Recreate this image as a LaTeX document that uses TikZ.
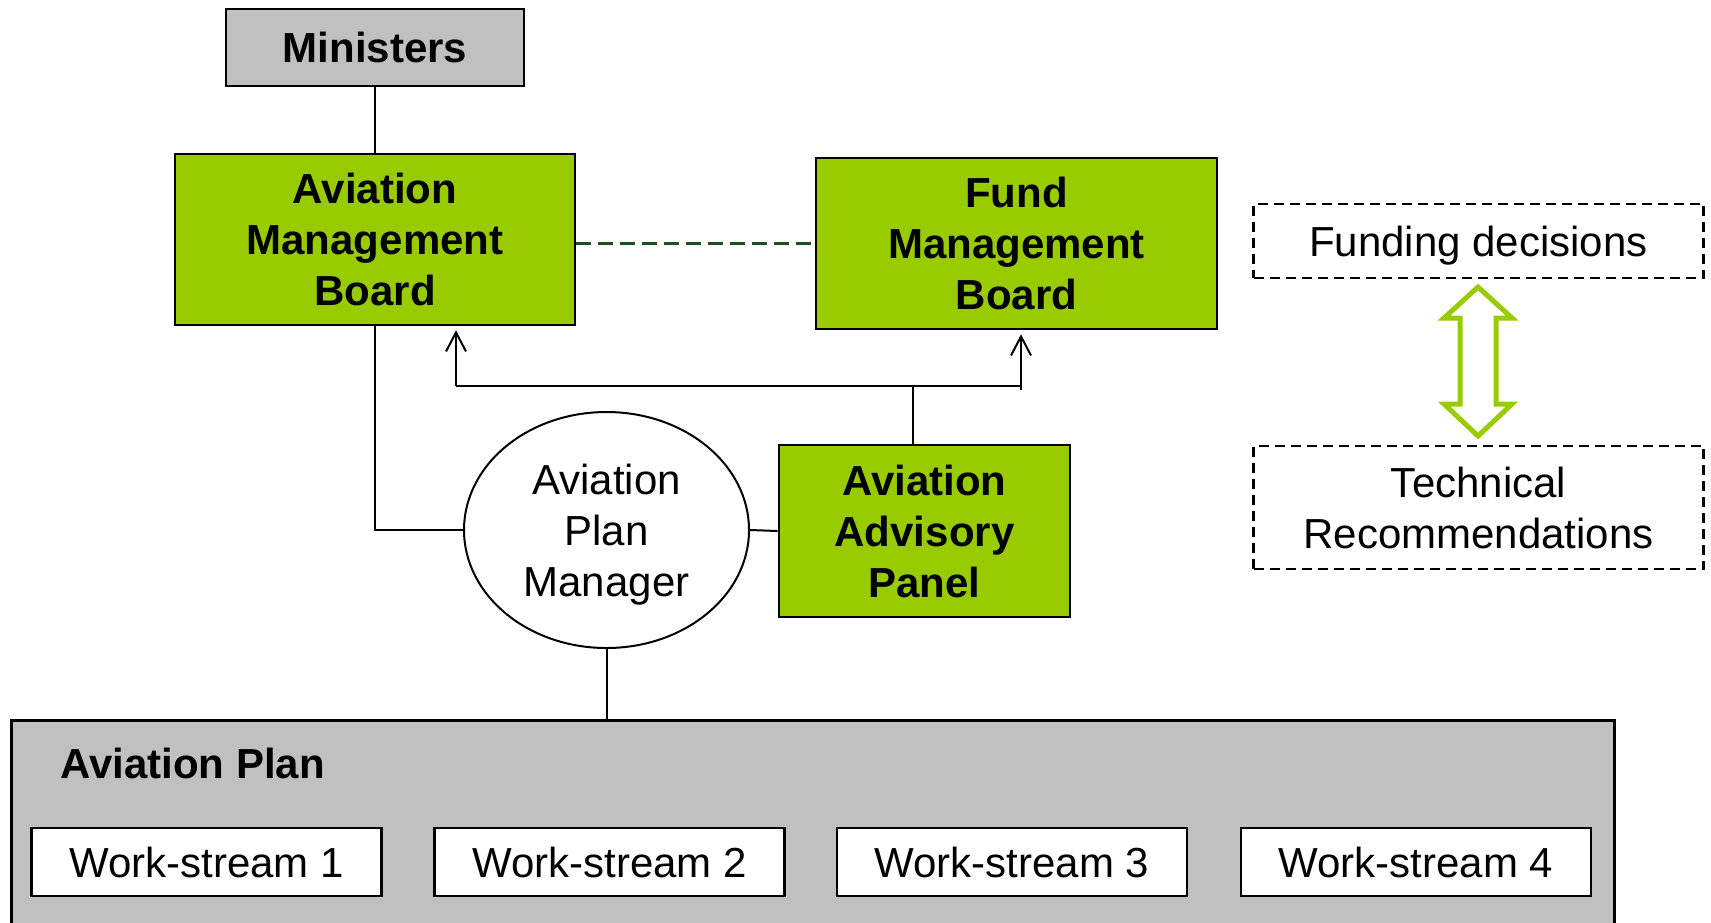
\documentclass[tikz,border=0pt]{standalone}
\usepackage{fontspec}
\setmainfont{Liberation Sans}
\usetikzlibrary{shapes.geometric,arrows.meta}
\definecolor{boardgreen}{HTML}{99CC00}
\definecolor{panelgray}{HTML}{C0C0C0}
\definecolor{linkgreen}{HTML}{1F5020}

\begin{document}
\begin{tikzpicture}[x=0.5pt,y=-0.5pt,
  txt/.style={font=\fontsize{21}{25.5}\selectfont, align=center, inner sep=0pt},
  boldtxt/.style={txt, font=\fontsize{21}{25.5}\selectfont\bfseries},
  board/.style={boldtxt, draw=black, line width=1.3pt, fill=boardgreen},
  graybox/.style={boldtxt, draw=black, line width=1.3pt, fill=panelgray},
  wsbox/.style={txt, draw=black, line width=1.3pt, fill=white,
    minimum width=175pt, minimum height=34pt},
  notebox/.style={txt, draw=black, line width=1.2pt, dash pattern=on 5pt off 3pt},
  link/.style={draw=black, line width=1pt},
  uparrow/.style={link, -{Straight Barb[length=9.5pt,width=10pt]}, shorten >=2pt},
]
\useasboundingbox (0,0) rectangle (1711,922);

% governance boxes
\node[graybox, minimum width=149pt, minimum height=38.5pt] (min) at (375,47.5) {Ministers};
\node[board, minimum width=200pt, minimum height=85.5pt] (amb) at (375,239.5)
  {Aviation\\Management\\Board};
\node[board, minimum width=200.5pt, minimum height=85.5pt] (fmb) at (1016.5,243.5)
  {Fund\\Management\\Board};
\node[board, minimum width=145.5pt, minimum height=86pt] (aap) at (924.5,531)
  {Aviation\\Advisory\\Panel};
\node[txt, ellipse, draw=black, line width=1pt, fill=white, text depth=0pt,
  minimum width=142.5pt, minimum height=118pt] (apm) at (606.5,530)
  {Aviation\\Plan\\Manager};

% legend on the right
\node[notebox, text depth=0pt, minimum width=225pt, minimum height=37pt] (fund) at (1478.5,241)
  {Funding decisions};
\node[notebox, minimum width=225pt, minimum height=61.5pt] (tech) at (1478.5,507.5)
  {Technical\\Recommendations};
\draw[boardgreen, line width=2.5pt, line join=miter]
  (1478,287) -- (1512,318) -- (1496,318) -- (1496,404) -- (1512,404) -- (1478,436)
  -- (1444,404) -- (1460,404) -- (1460,318) -- (1444,318) -- cycle;

% the plan and its work-streams
\node[draw=black, line width=1.3pt, fill=panelgray, inner sep=0pt, anchor=north west,
  minimum width=801.5pt, minimum height=120pt] (plan) at (10,719) {};
\node[boldtxt, anchor=base west] (plantitle) at (60,778) {Aviation Plan};
\node[wsbox] (ws1) at (206.5,862) {Work-stream 1};
\node[wsbox] (ws2) at (609.5,862) {Work-stream 2};
\node[wsbox] (ws3) at (1012,862) {Work-stream 3};
\node[wsbox] (ws4) at (1416,862) {Work-stream 4};

% connectors
\draw[link] (min) -- (amb);
\draw[link] (amb.south) |- (apm.west);
\draw[link] (apm.east) -- (aap.west);
\draw[link] (apm.south) -- (apm.south |- plan.north);
\draw[linkgreen, line width=1.2pt, dash pattern=on 7.5pt off 3.5pt]
  (amb.east |- fmb.west) -- (fmb.west);

\coordinate (j) at (913,386);
\coordinate (la) at (456,386);
\coordinate (ra) at (1021,390);
\draw[link] (aap.north -| j) -- (j);
\draw[link] (la) -- (la -| ra);
\draw[uparrow] (la) -- (la |- amb.south);
\draw[uparrow] (ra) -- (ra |- fmb.south);
\end{tikzpicture}
\end{document}
